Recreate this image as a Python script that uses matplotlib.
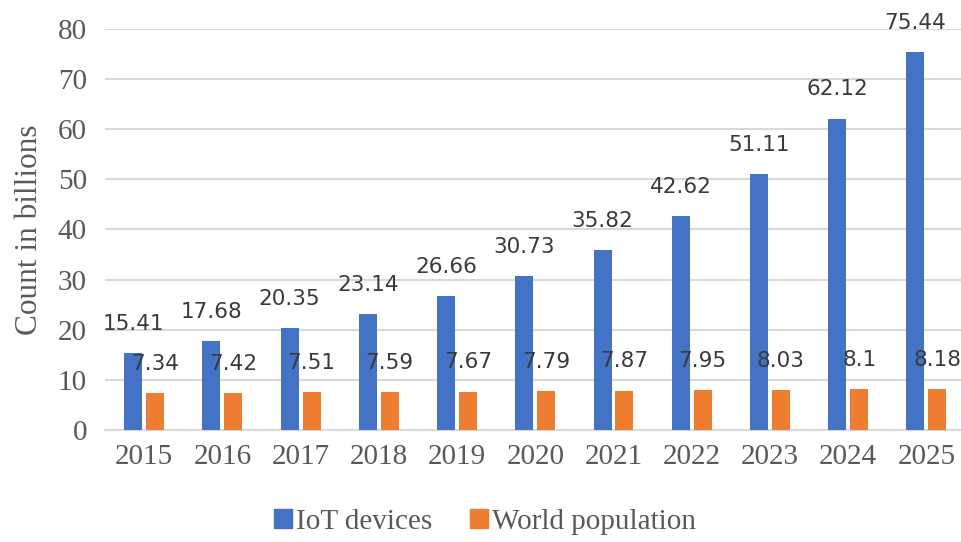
import numpy as np
import matplotlib.pyplot as plt
from matplotlib.patches import Patch

years = ["2015", "2016", "2017", "2018", "2019", "2020", "2021", "2022", "2023", "2024", "2025"]
iot_devices = [15.41, 17.68, 20.35, 23.14, 26.66, 30.73, 35.82, 42.62, 51.11, 62.12, 75.44]
world_population = [7.34, 7.42, 7.51, 7.59, 7.67, 7.79, 7.87, 7.95, 8.03, 8.1, 8.18]

BLUE = "#4472C4"
ORANGE = "#ED7D31"
SERIF = "Liberation Serif"

fig = plt.figure(figsize=(9.61, 5.42), dpi=100)
ax = fig.add_axes([0.1093, 0.2066, 0.893, 0.74])

x = np.arange(len(years))
w = 0.23
b1 = ax.bar(x - 0.14, iot_devices, w, color=BLUE, zorder=3)
b2 = ax.bar(x + 0.14, world_population, w, color=ORANGE, zorder=3)

for bars, vals in ((b1, iot_devices), (b2, world_population)):
    for rect, v in zip(bars, vals):
        ax.annotate(f"{v:g}", (rect.get_x() + rect.get_width() / 2, v),
                    xytext=(0, 21), textcoords="offset points",
                    ha="center", va="center", fontsize=15.5,
                    family="DejaVu Sans", color="#3a3a3a", zorder=4,
                    annotation_clip=False)

ax.set_xlim(-0.5, 10.47)
ax.set_ylim(0, 80)
ax.set_yticks(range(0, 81, 10))
ax.set_xticks(x)
ax.set_xticklabels(years)
ax.tick_params(length=0, labelsize=21, labelcolor="#595959", pad=10)
ax.tick_params(axis="y", pad=13)
for lab in ax.get_xticklabels() + ax.get_yticklabels():
    lab.set_family(SERIF)
ax.grid(axis="y", color="#d9d9d9", linewidth=1.5, zorder=0)
for s in ["top", "right", "left"]:
    ax.spines[s].set_visible(False)
ax.spines["bottom"].set_color("#d9d9d9")
ax.spines["bottom"].set_linewidth(1.5)

ax.set_ylabel("Count in billions", family=SERIF, fontsize=22.5, color="#595959", labelpad=10)

handles = [Patch(color=BLUE), Patch(color=ORANGE)]
fig.legend(handles, ["IoT devices", "World population"], loc="center",
           bbox_to_anchor=(0.505, 0.037), ncol=2, frameon=False,
           prop={"family": SERIF, "size": 21}, labelcolor="#595959",
           handlelength=0.6, handleheight=0.6, handletextpad=0.15,
           columnspacing=1.3)

fig.savefig("out.png", dpi=100)
